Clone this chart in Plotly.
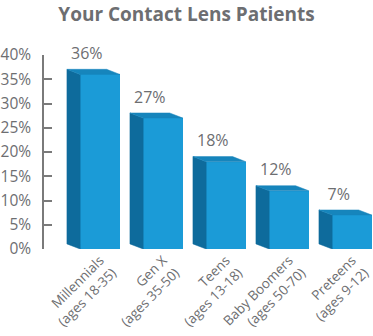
import plotly.graph_objects as go

# Contact lens patients by generation
categories = ["Millennials<br>(ages 18-35)", "Gen X<br>(ages 35-50)", "Teens<br>(ages 13-18)",
              "Baby Boomers<br>(ages 50-70)", "Preteens<br>(ages 9-12)"]
values = [36, 27, 18, 12, 7]
y_ticks = [0, 5, 10, 15, 20, 25, 30, 35, 40]

FRONT = "#1b9bd7"
SIDE = "#0e6b9c"
TOP = "#1685bc"
GREY = "#6d6e71"
FONT = "Open Sans"

bar_w = 0.63      # front-face width (category units)
depth_x = -0.21   # oblique depth offset, x (category units)
depth_y = 1.05    # oblique depth offset, y (percent units)
label_gap = 1.3   # extra lift of value labels (percent units)

fig = go.Figure()
xs = list(range(len(values)))

for i, v in zip(xs, values):
    l, r = i - bar_w / 2, i + bar_w / 2
    # left side face
    fig.add_trace(go.Scatter(
        x=[l, l + depth_x, l + depth_x, l, l],
        y=[0, depth_y, v + depth_y, v, 0],
        fill="toself", fillcolor=SIDE, mode="lines",
        line=dict(color=SIDE, width=0.5), hoverinfo="skip", showlegend=False))
    # top face
    fig.add_trace(go.Scatter(
        x=[l, r, r + depth_x, l + depth_x, l],
        y=[v, v, v + depth_y, v + depth_y, v],
        fill="toself", fillcolor=TOP, mode="lines",
        line=dict(color=TOP, width=0.5), hoverinfo="skip", showlegend=False))

# front faces
fig.add_trace(go.Bar(x=xs, y=values, width=bar_w, marker=dict(color=FRONT, line=dict(width=0)),
                     hoverinfo="skip", showlegend=False))

# value labels above the bars
fig.add_trace(go.Scatter(
    x=[i + depth_x for i in xs], y=[v + depth_y + label_gap for v in values],
    mode="text", text=[f"{v}%" for v in values], textposition="top center",
    textfont=dict(family=FONT, size=16, color=GREY), cliponaxis=False,
    hoverinfo="skip", showlegend=False))

fig.update_layout(
    width=373, height=336,
    margin=dict(l=44, r=0, t=55, b=87, autoexpand=False),
    paper_bgcolor="white", plot_bgcolor="white",
    title=dict(text="<b>Your Contact Lens Patients</b>", x=0.5, xanchor="center",
               y=0.957, yanchor="middle", font=dict(family=FONT, size=19, color=GREY)),
    bargap=0,
)
fig.update_xaxes(range=[-0.889, 4.333], tickvals=xs, ticktext=categories, tickangle=-45,
                 automargin=False,
                 showgrid=False, zeroline=False, showline=False, ticks="",
                 tickfont=dict(family=FONT, size=13.5, color=GREY))
fig.update_yaxes(range=[0, 40], tickvals=y_ticks, ticktext=[f"{t}%" for t in y_ticks],
                 automargin=False,
                 showgrid=False, zeroline=False, showline=True, linecolor="#7a7a7a", linewidth=1.5,
                 ticks="inside", ticklen=8, tickcolor="#7a7a7a", tickwidth=1.5,
                 ticklabelstandoff=8,
                 tickfont=dict(family=FONT, size=15.5, color=GREY))

fig.write_html("out.html")
